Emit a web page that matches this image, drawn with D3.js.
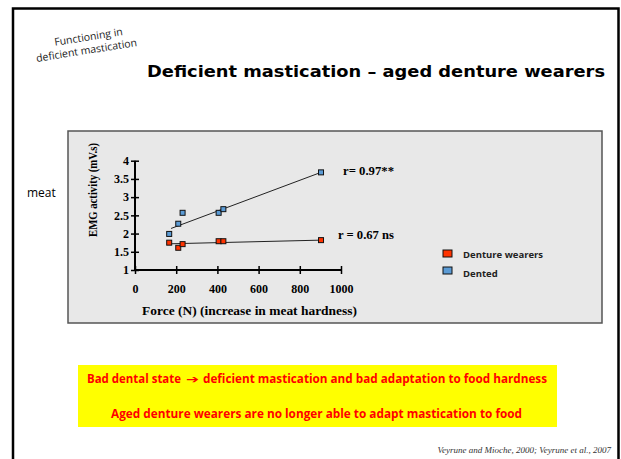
<!DOCTYPE html>
<html>
<head>
<meta charset="utf-8">
<script src="https://cdn.jsdelivr.net/npm/d3@7"></script>
<style>
  body { margin: 0; background: #fff; }
  svg { display: block; }
</style>
</head>
<body>
<div></div>
<script>
const WIDTH = 621;
const HEIGHT = 459;

// donnees
const forceDenture = [166, 210, 231, 406, 429, 903];
const emgDenture = [1.75, 1.61, 1.71, 1.79, 1.79, 1.82];
const forceDented = [166, 210, 231, 406, 429, 903];
const emgDented = [1.99, 2.27, 2.57, 2.57, 2.67, 3.68];
// droites de regression (extremites)
const trendDentureX = [175, 903];
const trendDentureY = [1.72, 1.82];
const trendDentedX = [175, 903];
const trendDentedY = [2.14, 3.68];
const xTicks = [0, 200, 400, 600, 800, 1000];
const yTicks = [1, 1.5, 2, 2.5, 3, 3.5, 4];
const seriesNames = ["Denture wearers", "Dented"];
const seriesColors = ["#ff3300", "#5b9bd5"];

const svg = d3.select("div").append("svg")
  .attr("width", WIDTH)
  .attr("height", HEIGHT);

// cadre de la diapo
svg.append("path")
  .attr("d", "M13,470 V8.5 H618.5 V470")
  .attr("fill", "none")
  .attr("stroke", "#000")
  .attr("stroke-width", 2.5);

// petit titre incline
const tag = svg.append("g").attr("transform", "translate(86,47) rotate(-9)")
  .style("font-family", "'Open Sans', 'Noto Sans', sans-serif")
  .style("font-size", "10.5px")
  .attr("fill", "#222")
  .attr("text-anchor", "middle");
tag.append("text").attr("x", 4).attr("y", -6).text("Functioning in");
tag.append("text").attr("x", 0).attr("y", 7).text("deficient mastication");

svg.append("text")
  .attr("x", 147).attr("y", 77)
  .attr("textLength", 458).attr("lengthAdjust", "spacingAndGlyphs")
  .style("font-family", "'Comic Sans MS', 'DejaVu Sans', sans-serif")
  .style("font-weight", "bold")
  .style("font-size", "16.5px")
  .text("Deficient mastication – aged denture wearers");

svg.append("text")
  .attr("x", 27).attr("y", 197)
  .style("font-family", "'Open Sans', sans-serif")
  .style("font-size", "12px")
  .text("meat");

// zone du graphique
svg.append("rect")
  .attr("x", 68).attr("y", 131)
  .attr("width", 534).attr("height", 192)
  .attr("fill", "#e8e8e8")
  .attr("stroke", "#555")
  .attr("stroke-width", 1.5);

const x = d3.scaleLinear().domain([0, 1000]).range([135, 341]);
const y = d3.scaleLinear().domain([1, 4]).range([270, 160.7]);

const serif = "'Liberation Serif', 'Times New Roman', serif";

// axe x
const xAxis = svg.append("g").attr("transform", "translate(0," + y(1) + ")")
  .call(d3.axisBottom(x).tickValues(xTicks).tickSize(0).tickPadding(14).tickFormat(d3.format("d")));
xAxis.select(".domain").attr("stroke", "#000").attr("stroke-width", 2).attr("d", "M" + x(0) + ",0H" + x(1000));
xAxis.selectAll(".tick").append("line").attr("y1", -4).attr("y2", 4).attr("stroke", "#000").attr("stroke-width", 1.5);
xAxis.selectAll("text").style("font-family", serif).style("font-weight", "bold").style("font-size", "12px").attr("fill", "#000");

// axe y
const yAxis = svg.append("g").attr("transform", "translate(" + x(0) + ",0)")
  .call(d3.axisLeft(y).tickValues(yTicks).tickSize(0).tickPadding(6).tickFormat(d => d));
yAxis.select(".domain").attr("stroke", "#000").attr("stroke-width", 2).attr("d", "M0," + y(1) + "V" + y(4));
yAxis.selectAll(".tick").append("line").attr("x1", -4).attr("x2", 4).attr("stroke", "#000").attr("stroke-width", 1.5);
yAxis.selectAll("text").style("font-family", serif).style("font-weight", "bold").style("font-size", "12px").attr("fill", "#000");

svg.append("text")
  .attr("transform", "translate(97,190) rotate(-90)")
  .attr("text-anchor", "middle")
  .attr("textLength", 94).attr("lengthAdjust", "spacingAndGlyphs")
  .style("font-family", serif).style("font-weight", "bold").style("font-size", "12.5px")
  .text("EMG activity  (mV.s)");

svg.append("text")
  .attr("x", 142).attr("y", 315)
  .attr("textLength", 215).attr("lengthAdjust", "spacingAndGlyphs")
  .style("font-family", serif).style("font-weight", "bold").style("font-size", "13px")
  .text("Force (N)  (increase in meat hardness)");

// droites
const line = d3.line().x(d => x(d[0])).y(d => y(d[1]));
[[trendDentureX, trendDentureY], [trendDentedX, trendDentedY]].forEach(t => {
  svg.append("path")
    .attr("d", line(d3.zip(t[0], t[1])))
    .attr("fill", "none")
    .attr("stroke", "#222")
    .attr("stroke-width", 1);
});

// points
[[forceDenture, emgDenture], [forceDented, emgDented]].forEach((s, i) => {
  svg.append("g").selectAll("rect")
    .data(d3.zip(s[0], s[1]))
    .enter().append("rect")
    .attr("x", d => x(d[0]) - 2.5)
    .attr("y", d => y(d[1]) - 2.5)
    .attr("width", 5).attr("height", 5)
    .attr("fill", seriesColors[i])
    .attr("stroke", "#111")
    .attr("stroke-width", 1);
});

svg.append("text")
  .attr("x", 343).attr("y", 175)
  .attr("textLength", 51).attr("lengthAdjust", "spacingAndGlyphs")
  .style("font-family", serif).style("font-weight", "bold").style("font-size", "12.5px")
  .text("r= 0.97**");
svg.append("text")
  .attr("x", 338).attr("y", 239)
  .attr("textLength", 56).attr("lengthAdjust", "spacingAndGlyphs")
  .style("font-family", serif).style("font-weight", "bold").style("font-size", "12.5px")
  .text("r = 0.67 ns");

// legende
const legend = svg.append("g").selectAll("g")
  .data(seriesNames)
  .enter().append("g")
  .attr("transform", (d, i) => "translate(443," + (250 + i * 17) + ")");
legend.append("rect")
  .attr("width", 9).attr("height", 7)
  .attr("fill", (d, i) => seriesColors[i])
  .attr("stroke", "#111").attr("stroke-width", 1);
legend.append("text")
  .attr("x", 20).attr("y", (d, i) => 7.5 + i * 2)
  .style("font-family", "'Open Sans', sans-serif")
  .style("font-weight", "bold").style("font-size", "9.5px")
  .attr("fill", "#222")
  .text(d => d);

// encadre jaune
svg.append("rect")
  .attr("x", 78).attr("y", 365)
  .attr("width", 479).attr("height", 62)
  .attr("fill", "#ffff00");
const boxFont = "'Open Sans', sans-serif";
svg.append("text")
  .attr("x", 87).attr("y", 383)
  .attr("textLength", 94).attr("lengthAdjust", "spacingAndGlyphs")
  .style("font-family", boxFont).style("font-weight", "bold").style("font-size", "11px")
  .style("font-size", "11.5px")
  .attr("fill", "#ff0000")
  .text("Bad dental state");
svg.append("text")
  .attr("x", 186).attr("y", 383)
  .attr("textLength", 13).attr("lengthAdjust", "spacingAndGlyphs")
  .style("font-family", "'DejaVu Sans', sans-serif").style("font-weight", "bold").style("font-size", "11px")
  .attr("fill", "#ff0000")
  .text("\u2794");
svg.append("text")
  .attr("x", 203).attr("y", 383)
  .attr("textLength", 344).attr("lengthAdjust", "spacingAndGlyphs")
  .style("font-family", boxFont).style("font-weight", "bold").style("font-size", "12.5px")
  .attr("fill", "#ff0000")
  .text("deficient mastication and bad adaptation to food hardness");
svg.append("text")
  .attr("x", 111).attr("y", 418)
  .attr("textLength", 411).attr("lengthAdjust", "spacingAndGlyphs")
  .style("font-family", boxFont).style("font-weight", "bold").style("font-size", "12.5px")
  .attr("fill", "#ff0000")
  .text("Aged denture wearers are no longer able to adapt mastication to food");

svg.append("text")
  .attr("x", 611).attr("y", 453)
  .attr("text-anchor", "end")
  .style("font-family", serif).style("font-style", "italic").style("font-size", "9px")
  .attr("fill", "#333")
  .text("Veyrune and Mioche, 2000; Veyrune et al., 2007");
</script>
</body>
</html>
